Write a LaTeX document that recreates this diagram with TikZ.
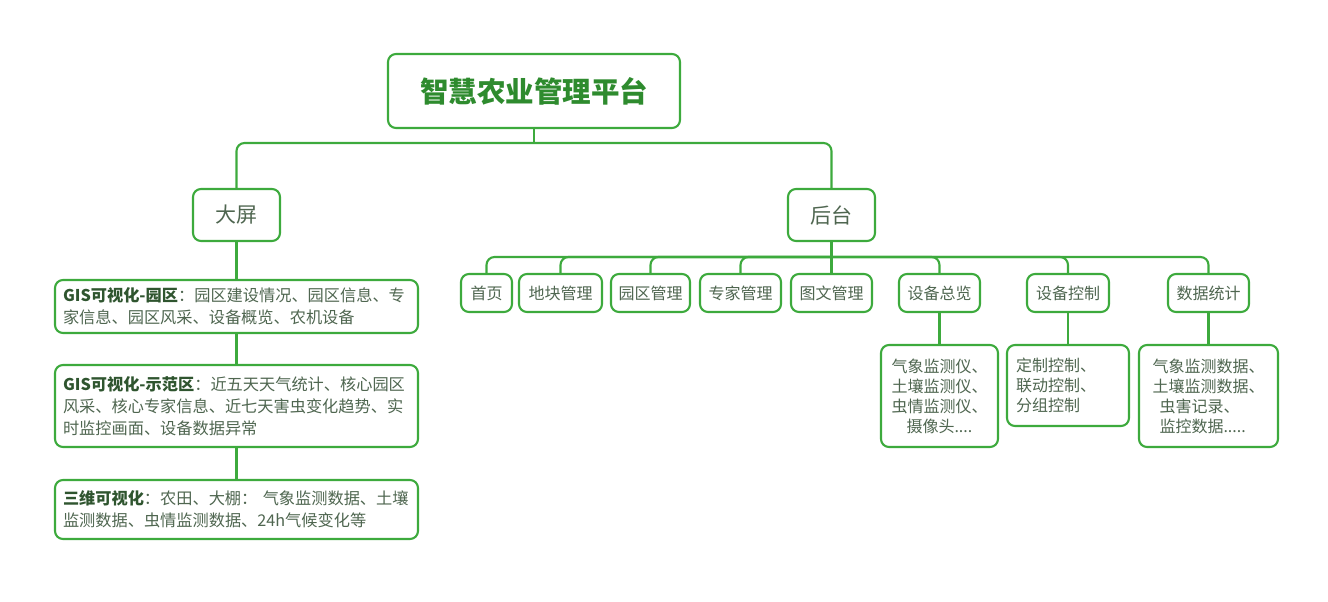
\documentclass[tikz,border=0pt]{standalone}
\usepackage{fontspec}
\setmainfont{Noto Sans CJK SC}
\usepackage{xcolor}
\usetikzlibrary{positioning}
\definecolor{leaf}{HTML}{3DAA3D}
\definecolor{titlegreen}{HTML}{2E8B2E}
\definecolor{txt}{HTML}{4F6650}
\definecolor{keygreen}{HTML}{2F552F}

\tikzset{
  box/.style={rectangle, rounded corners=8pt, draw=leaf, line width=2.1pt, fill=white, text=txt, inner sep=0pt, font=\fontsize{16}{20}\selectfont},
  widebox/.style={box, text width=347pt, inner xsep=8pt, align=left, font=\fontsize{16.2}{22}\selectfont},
  conn/.style={draw=leaf, line width=2.1pt, rounded corners=8pt},
}
\newcommand{\keyword}[1]{\textbf{\color{keygreen}#1}}

\begin{document}
\begin{tikzpicture}[x=1pt, y=-1pt]
    \useasboundingbox (0,0) rectangle (1328,602);

    % top level
    \node[box, minimum width=292pt, minimum height=74pt, text=titlegreen, font=\fontsize{28.5}{32}\selectfont\bfseries] (root) at (534,91) {智慧农业管理平台};
    \node[box, minimum width=87pt, minimum height=52pt, font=\fontsize{21}{24}\selectfont] (screen) at (236.5,215) {大屏};
    \node[box, minimum width=87pt, minimum height=52pt, font=\fontsize{21}{24}\selectfont] (admin) at (831.5,215) {后台};

    % big screen column
    \node[widebox, minimum height=53pt] (gispark) at (236.5,306.5) {\keyword{GIS可视化-园区}：园区建设情况、园区信息、专\\家信息、园区风采、设备概览、农机设备};
    \node[widebox, minimum height=82pt] (gisdemo) at (236.5,406) {\keyword{GIS可视化-示范区}：近五天天气统计、核心园区\\风采、核心专家信息、近七天害虫变化趋势、实\\时监控画面、设备数据异常};
    \node[widebox, minimum height=59pt] (threed) at (236.5,509.5) {\keyword{三维可视化}：农田、大棚： 气象监测数据、土壤\\监测数据、虫情监测数据、24h气候变化等};

    % back office modules
    \node[box, minimum width=51pt, minimum height=38pt] (home) at (486.5,293) {首页};
    \node[box, minimum width=83pt, minimum height=38pt] (plot) at (560.5,293) {地块管理};
    \node[box, minimum width=79pt, minimum height=38pt] (park) at (650.5,293) {园区管理};
    \node[box, minimum width=81pt, minimum height=38pt] (expert) at (740.5,293) {专家管理};
    \node[box, minimum width=81pt, minimum height=38pt] (media) at (831.5,293) {图文管理};
    \node[box, minimum width=81pt, minimum height=38pt] (devview) at (939.5,293) {设备总览};
    \node[box, minimum width=82pt, minimum height=38pt] (devctrl) at (1068,293) {设备控制};
    \node[box, minimum width=81pt, minimum height=38pt] (stats) at (1208.5,293) {数据统计};

    \node[box, minimum width=117pt, minimum height=102pt, align=left] (devlist) at (939.5,396) {气象监测仪、\\土壤监测仪、\\虫情监测仪、\\\hspace*{15pt}摄像头....};
    \node[box, minimum width=122pt, minimum height=81pt, align=left, text width=104pt] (ctrllist) at (1068,385.5) {定制控制、\\联动控制、\\分组控制};
    \node[box, minimum width=139pt, minimum height=102pt, align=left] (statlist) at (1208.5,396) {气象监测数据、\\土壤监测数据、\\\hspace*{7pt}虫害记录、\\\hspace*{7pt}监控数据.....};

    \coordinate (rootbus) at (534,143);
    \coordinate (adminbus) at (831.5,257);

    % connectors
    \draw[conn] (root) -- (rootbus);
    \draw[conn] (screen.north) |- (rootbus) -| (admin.north);
    \draw[conn] (screen) -- (gispark);
    \draw[conn] (gispark) -- (gisdemo);
    \draw[conn] (gisdemo) -- (threed);
    \draw[conn] (admin) -- (media);
    \draw[conn] (home.north) |- (adminbus) -| (stats.north);
    \draw[conn] (adminbus) -| (plot.north);
    \draw[conn] (adminbus) -| (park.north);
    \draw[conn] (adminbus) -| (expert.north);
    \draw[conn] (adminbus) -| (devview.north);
    \draw[conn] (adminbus) -| (devctrl.north);
    \draw[conn] (devview) -- (devlist);
    \draw[conn] (devctrl) -- (ctrllist);
    \draw[conn] (stats) -- (statlist);
\end{tikzpicture}
\end{document}
